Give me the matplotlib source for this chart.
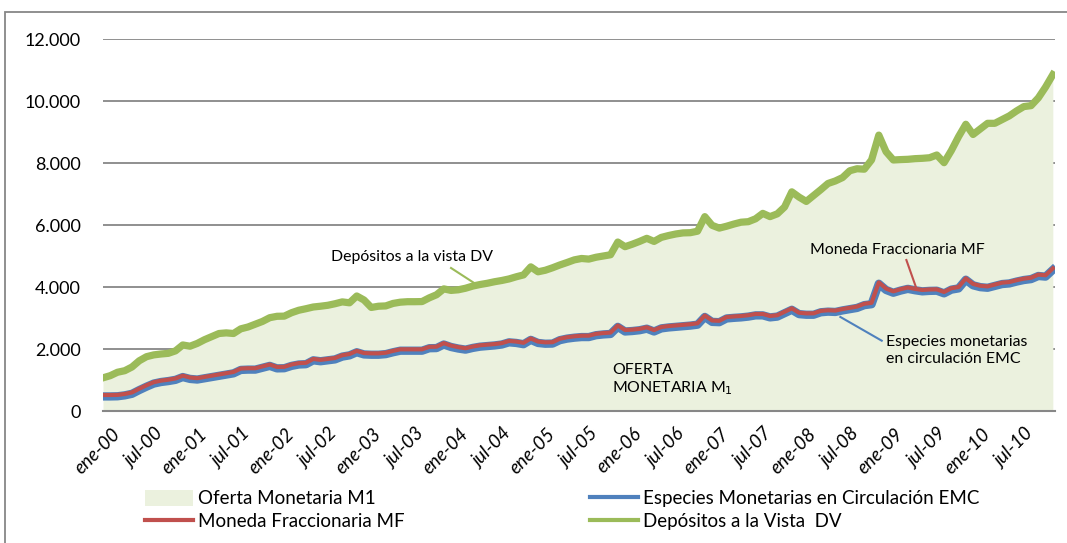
import matplotlib
matplotlib.use("Agg")
import matplotlib.pyplot as plt
import matplotlib.transforms as mtransforms
from matplotlib.patches import Rectangle, Patch
from matplotlib.lines import Line2D
import numpy as np

plt.rcParams['font.family'] = ['Lato', 'DejaVu Sans']

# meses ene-00 ... dic-10
years = list(range(2000, 2011))
months_es = ["ene", "feb", "mar", "abr", "may", "jun",
             "jul", "ago", "sep", "oct", "nov", "dic"]
periods = [f"{m}-{str(y)[2:]}" for y in years for m in months_es]

# Depositos a la vista DV (tope del area M1)
dv = [1070, 1140, 1250, 1300, 1420, 1620, 1752, 1810, 1839, 1860, 1940, 2130,
      2090, 2180, 2300, 2400, 2500, 2520, 2500, 2650, 2710, 2800, 2890, 3010,
      3055, 3060, 3170, 3250, 3300, 3355, 3380, 3410, 3460, 3520, 3490, 3710,
      3580, 3340, 3380, 3390, 3470, 3510, 3526, 3526, 3530, 3650, 3750, 3940,
      3890, 3910, 3960, 4030, 4080, 4120, 4170, 4210, 4260, 4330, 4390, 4650,
      4490, 4540, 4620, 4710, 4790, 4875, 4920, 4900, 4960, 5000, 5040, 5450,
      5300, 5380, 5470, 5570, 5470, 5600, 5660, 5710, 5745, 5752, 5800, 6270,
      5990, 5900, 5960, 6030, 6090, 6107, 6200, 6375, 6270, 6360, 6580, 7070,
      6900, 6760, 6950, 7140, 7340, 7420, 7530, 7750, 7815, 7800, 8100, 8900,
      8365, 8097, 8110, 8119, 8140, 8151, 8170, 8258, 8010, 8400, 8850, 9250,
      8920, 9100, 9280, 9280, 9400, 9520, 9680, 9820, 9850, 10100, 10450, 10850]

# Moneda Fraccionaria MF
mf = [516, 516, 520, 550, 600, 720, 830, 930, 980, 1010, 1050, 1140,
      1080, 1060, 1100, 1140, 1180, 1220, 1260, 1370, 1380, 1380, 1440, 1500,
      1420, 1425, 1500, 1545, 1555, 1680, 1650, 1680, 1710, 1800, 1839, 1940,
      1870, 1860, 1860, 1880, 1940, 1990, 1990, 1990, 1990, 2070, 2075, 2190,
      2110, 2060, 2025, 2080, 2120, 2140, 2160, 2190, 2260, 2240, 2200, 2340,
      2240, 2215, 2220, 2330, 2380, 2410, 2430, 2430, 2490, 2515, 2530, 2760,
      2613, 2625, 2650, 2700, 2610, 2710, 2740, 2760, 2780, 2800, 2830, 3080,
      2920, 2910, 3030, 3050, 3065, 3090, 3130, 3130, 3065, 3090, 3200, 3312,
      3170, 3150, 3151, 3230, 3250, 3240, 3290, 3330, 3370, 3460, 3490, 4150,
      3950, 3860, 3930, 3985, 3940, 3905, 3920, 3925, 3840, 3960, 4000, 4280,
      4100, 4040, 4020, 4080, 4140, 4160, 4220, 4270, 4300, 4400, 4380, 4600]

# Especies Monetarias en Circulacion EMC
emc = [470, 470, 475, 505, 555, 675, 785, 885, 935, 965, 1005, 1095,
       1035, 1015, 1055, 1095, 1135, 1175, 1215, 1325, 1335, 1335, 1395, 1455,
       1375, 1380, 1455, 1500, 1510, 1635, 1605, 1635, 1665, 1755, 1795, 1895,
       1825, 1815, 1815, 1835, 1895, 1945, 1945, 1945, 1945, 2025, 2030, 2145,
       2065, 2015, 1980, 2035, 2075, 2095, 2115, 2145, 2215, 2195, 2155, 2295,
       2195, 2170, 2175, 2285, 2335, 2365, 2385, 2385, 2445, 2470, 2485, 2715,
       2565, 2580, 2605, 2655, 2565, 2665, 2695, 2715, 2735, 2755, 2785, 3035,
       2875, 2865, 2985, 3005, 3020, 3045, 3085, 3085, 3020, 3045, 3155, 3265,
       3125, 3105, 3105, 3185, 3205, 3195, 3245, 3285, 3325, 3415, 3445, 4105,
       3905, 3815, 3885, 3940, 3895, 3860, 3875, 3880, 3795, 3915, 3955, 4235,
       4055, 3995, 3975, 4035, 4095, 4115, 4175, 4225, 4255, 4355, 4335, 4555]

yticks = [0, 2000, 4000, 6000, 8000, 10000, 12000]
ytick_labels = ["0", "2.000", "4.000", "6.000", "8.000", "10.000", "12.000"]

c_fill = "#EBF1DE"
c_green = "#9BBB59"
c_blue = "#4F81BD"
c_red = "#C0504D"
c_grid = "#878787"

W, H = 1067, 543
fig = plt.figure(figsize=(W / 100, H / 100), dpi=100)
ax = fig.add_axes([103 / W, 1 - 411 / H, (1055 - 103) / W, (411 - 39) / H])

x = np.arange(len(periods))
ax.fill_between(x, 0, dv, color=c_fill, lw=0, zorder=1)
ax.plot(x, dv, color=c_green, lw=5.2, solid_joinstyle="round", zorder=3)
ax.plot(x, emc, color=c_blue, lw=6.0, solid_joinstyle="round", zorder=4)
ax.plot(x, mf, color=c_red, lw=3.0, solid_joinstyle="round", zorder=5)

ax.set_xlim(0, 131.3)
ax.set_ylim(0, 12000)
ax.set_yticks(yticks)
ax.set_yticklabels(ytick_labels, fontsize=13)
ax.yaxis.grid(True, color=c_grid, lw=1.3, zorder=0)
ax.set_axisbelow(True)
ax.tick_params(axis="y", length=0, pad=16)
ax.tick_params(axis="x", length=0, pad=8)

ax.set_xticks(x[::6])
ax.set_xticklabels(periods[::6], rotation=45, ha="right", va="center",
                   rotation_mode="anchor", fontsize=13.5, style="italic")
off = mtransforms.ScaledTranslation(14 / 100, -9 / 100, fig.dpi_scale_trans)
for lab in ax.get_xticklabels():
    lab.set_transform(lab.get_transform() + off)

for s in ["top", "left", "right"]:
    ax.spines[s].set_visible(False)
ax.spines["bottom"].set_color(c_grid)
ax.spines["bottom"].set_linewidth(1.5)
ax.spines["bottom"].set_zorder(6)

# anotaciones
fs_ann = 11.4
ax.text(31.4, 4968, "Depósitos a la vista DV", fontsize=fs_ann, va="center")
ax.plot([48.0, 51.4], [4613, 4097], color=c_green, lw=1.5, zorder=6)
ax.text(97.5, 5194, "Moneda Fraccionaria MF", fontsize=fs_ann, va="center")
ax.plot([110.8, 112.1], [4871, 4010], color=c_red, lw=1.5, zorder=6)
ax.text(108.0, 1952, "Especies monetarias\nen circulación EMC", fontsize=fs_ann,
        va="center", linespacing=1.2)
ax.plot([101.7, 107.4], [3033, 2268], color=c_blue, lw=1.5, zorder=6)
ax.text(70.2, 1000, "OFERTA\nMONETARIA M$_1$", fontsize=fs_ann, va="center",
        linespacing=1.2)

# marco exterior
fig.patches.append(Rectangle((5 / W, -0.1), 1.2, 1 - 12 / H + 0.1,
                             transform=fig.transFigure, fill=False,
                             edgecolor=c_grid, lw=1.3))

fig.text(583 / W, 1 - 0.5 / H, "Millones de dólares", ha="center",
         va="baseline", fontsize=14, fontweight="bold")

# leyenda
h1 = [Patch(facecolor=c_fill, edgecolor="none"),
      Line2D([], [], color=c_red, lw=3)]
h2 = [Line2D([], [], color=c_blue, lw=3),
      Line2D([], [], color=c_green, lw=3)]
leg_kw = dict(frameon=False, fontsize=13.5, handlelength=2.55,
              handletextpad=0.27, labelspacing=0.3, borderaxespad=0,
              borderpad=0, handleheight=0.9)
fig.legend(h1, ["Oferta Monetaria M1", "Moneda Fraccionaria MF"],
           loc="upper left", bbox_to_anchor=(145 / W, 1 - 490 / H), **leg_kw)
fig.legend(h2, ["Especies Monetarias en Circulación EMC", "Depósitos a la Vista  DV"],
           loc="upper left", bbox_to_anchor=(590 / W, 1 - 490 / H), **leg_kw)

fig.savefig("out.png", dpi=100)
